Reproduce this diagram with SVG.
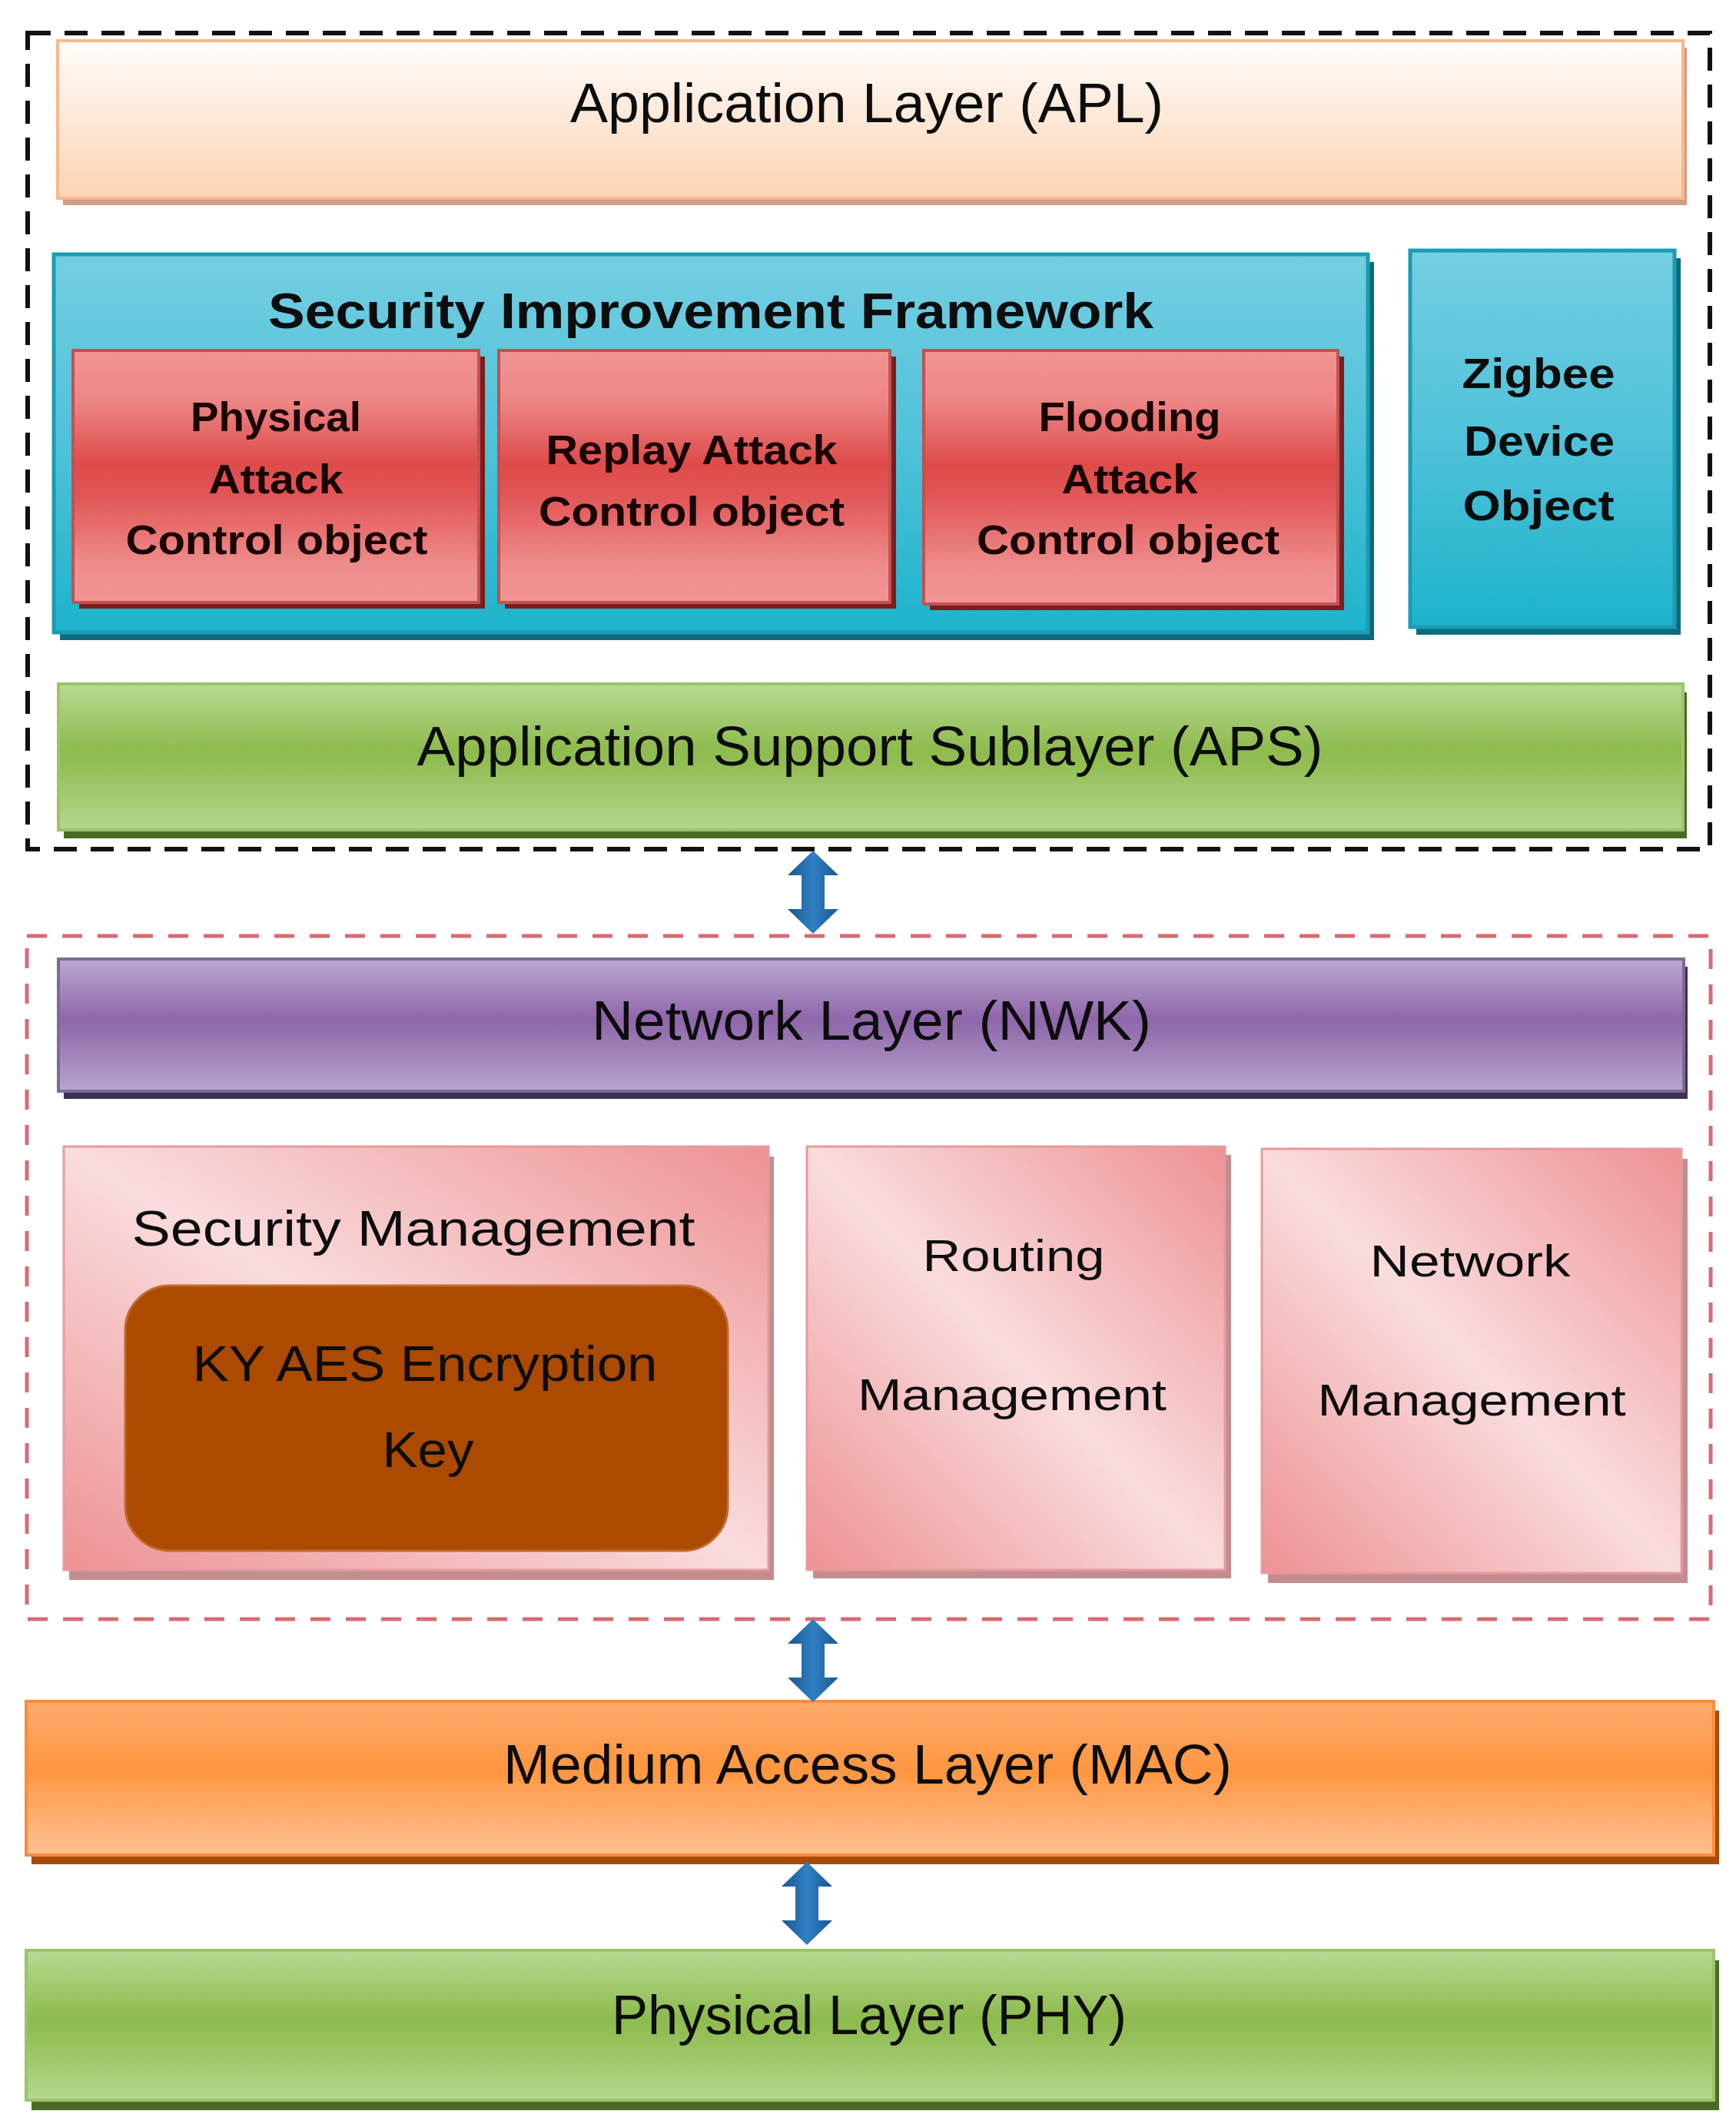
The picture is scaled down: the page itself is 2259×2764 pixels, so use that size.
<svg xmlns="http://www.w3.org/2000/svg" xmlns:xlink="http://www.w3.org/1999/xlink" width="2259" height="2764" viewBox="0 0 2259 2764">
<defs>
<linearGradient id="gAPL" x1="0" y1="0" x2="0" y2="1"><stop offset="0" stop-color="#FFFDFB"/><stop offset="0.35" stop-color="#FEEEE2"/><stop offset="1" stop-color="#FBD3B3"/></linearGradient>
<linearGradient id="gTeal" x1="0" y1="0" x2="0" y2="1"><stop offset="0" stop-color="#74CEE2"/><stop offset="0.5" stop-color="#4FC2D9"/><stop offset="1" stop-color="#1DB3CC"/></linearGradient>
<linearGradient id="gRed" x1="0" y1="0" x2="0" y2="1"><stop offset="0" stop-color="#F19494"/><stop offset="0.2" stop-color="#EC8686"/><stop offset="0.45" stop-color="#DF4B4B"/><stop offset="0.58" stop-color="#E25656"/><stop offset="0.85" stop-color="#EE8C8C"/><stop offset="1" stop-color="#F19595"/></linearGradient>
<linearGradient id="gGreen" x1="0" y1="0" x2="0" y2="1"><stop offset="0" stop-color="#B9D993"/><stop offset="0.45" stop-color="#8EBB4E"/><stop offset="0.55" stop-color="#92BE54"/><stop offset="1" stop-color="#B6D78E"/></linearGradient>
<linearGradient id="gPurple" x1="0" y1="0" x2="0" y2="1"><stop offset="0" stop-color="#BDA8D2"/><stop offset="0.45" stop-color="#8F67AB"/><stop offset="0.55" stop-color="#9470AF"/><stop offset="1" stop-color="#BAA5CF"/></linearGradient>
<linearGradient id="gPink" x1="0" y1="1" x2="1" y2="0"><stop offset="0" stop-color="#EE9194"/><stop offset="0.5" stop-color="#F9DCDD"/><stop offset="1" stop-color="#EE9194"/></linearGradient>
<linearGradient id="gOrange" x1="0" y1="0" x2="0" y2="1"><stop offset="0" stop-color="#FFAA6E"/><stop offset="0.45" stop-color="#FF963F"/><stop offset="0.6" stop-color="#FFA35A"/><stop offset="1" stop-color="#FFC092"/></linearGradient>
<linearGradient id="gArrow" x1="0" y1="0" x2="1" y2="0"><stop offset="0" stop-color="#1A568E"/><stop offset="0.5" stop-color="#2F80C4"/><stop offset="1" stop-color="#1A568E"/></linearGradient>
<path id="dblArrow" d="M0,0 L33,32 L15,32 L15,76 L33,76 L0,108 L-33,76 L-15,76 L-15,32 L-33,32 Z"/>
</defs>
<style>
text{font-family:"Liberation Sans",Arial,sans-serif;fill:#0d0d0d;text-anchor:middle}
.big{font-size:72px}
.mid{font-size:64px}
.sm{font-size:58px}
.bold{font-weight:bold}
.redt{font-size:54px;font-weight:bold;fill:#1a0505}
.shTeal{fill:#0E6B7C}
.shRed{fill:#7A1E1E}
.shGreen{fill:#4C6B22}
.shPink{fill:#C38D90}
</style>
<rect x="0" y="0" width="2259" height="2764" fill="#ffffff"/>

<g id="apl-container">
<rect x="36" y="43" width="2189" height="1062" fill="none" stroke="#111" stroke-width="6" stroke-dasharray="30 18"/>
</g>
<g id="nwk-container">
<rect x="35" y="1218" width="2191" height="889" fill="none" stroke="#D96A74" stroke-width="5" stroke-dasharray="26 20"/>
</g>

<g id="apl">
<rect x="82" y="62" width="2113" height="205" fill="#D49C82"/>
<rect x="75" y="53" width="2115" height="205" fill="url(#gAPL)" stroke="#F8B88A" stroke-width="4"/>
<text class="big" x="1128" y="159" textLength="772" lengthAdjust="spacingAndGlyphs">Application Layer (APL)</text>
</g>

<g id="sif">
<rect class="shTeal" x="78" y="341" width="1710" height="492"/>
<rect x="70" y="331" width="1710" height="492" fill="url(#gTeal)" stroke="#1A9CB3" stroke-width="5"/>
<text class="mid bold" x="925" y="427" textLength="1152" lengthAdjust="spacingAndGlyphs">Security Improvement Framework</text>
</g>

<g id="physical-attack">
<rect class="shRed" x="103" y="464" width="528" height="328"/>
<rect x="95" y="456" width="528" height="328" fill="url(#gRed)" stroke="#C4504F" stroke-width="4"/>
<text class="redt" x="359" y="561" textLength="222" lengthAdjust="spacingAndGlyphs">Physical</text>
<text class="redt" x="359" y="642" textLength="175" lengthAdjust="spacingAndGlyphs">Attack</text>
<text class="redt" x="360" y="721" textLength="393" lengthAdjust="spacingAndGlyphs">Control object</text>
</g>

<g id="replay-attack">
<rect class="shRed" x="657" y="464" width="509" height="328"/>
<rect x="649" y="456" width="509" height="328" fill="url(#gRed)" stroke="#C4504F" stroke-width="4"/>
<text class="redt" x="900" y="604" textLength="379" lengthAdjust="spacingAndGlyphs">Replay Attack</text>
<text class="redt" x="900" y="684" textLength="398" lengthAdjust="spacingAndGlyphs">Control object</text>
</g>

<g id="flooding-attack">
<rect class="shRed" x="1210" y="464" width="539" height="330"/>
<rect x="1202" y="456" width="539" height="330" fill="url(#gRed)" stroke="#C4504F" stroke-width="4"/>
<text class="redt" x="1470" y="561" textLength="237" lengthAdjust="spacingAndGlyphs">Flooding</text>
<text class="redt" x="1470" y="642" textLength="177" lengthAdjust="spacingAndGlyphs">Attack</text>
<text class="redt" x="1468" y="721" textLength="394" lengthAdjust="spacingAndGlyphs">Control object</text>
</g>

<g id="zdo">
<rect class="shTeal" x="1843" y="336" width="344" height="490"/>
<rect x="1835" y="326" width="344" height="490" fill="url(#gTeal)" stroke="#1A9CB3" stroke-width="5"/>
<text class="bold" style="font-size:56px" x="2002" y="505" textLength="199" lengthAdjust="spacingAndGlyphs">Zigbee</text>
<text class="bold" style="font-size:56px" x="2003" y="593" textLength="196" lengthAdjust="spacingAndGlyphs">Device</text>
<text class="bold" style="font-size:56px" x="2002" y="677" textLength="197" lengthAdjust="spacingAndGlyphs">Object</text>
</g>

<g id="aps">
<rect class="shGreen" x="83" y="901" width="2112" height="190"/>
<rect x="76" y="890" width="2114" height="190" fill="url(#gGreen)" stroke="#9CC36B" stroke-width="4"/>
<text class="big" x="1132" y="996" textLength="1179" lengthAdjust="spacingAndGlyphs">Application Support Sublayer (APS)</text>
</g>

<g id="nwk">
<rect x="83" y="1258" width="2113" height="172" fill="#3E2F52"/>
<rect x="76" y="1248" width="2115" height="172" fill="url(#gPurple)" stroke="#7D6A94" stroke-width="4"/>
<text class="big" x="1134" y="1353" textLength="728" lengthAdjust="spacingAndGlyphs">Network Layer (NWK)</text>
</g>

<g id="security-management">
<rect class="shPink" x="90" y="1505" width="917" height="551"/>
<rect x="83" y="1492" width="917" height="551" fill="url(#gPink)" stroke="#E59B9D" stroke-width="3"/>
<text class="mid" x="538" y="1621" textLength="733" lengthAdjust="spacingAndGlyphs">Security Management</text>
</g>

<g id="ky-aes-key">
<rect x="163" y="1673" width="784" height="345" rx="58" ry="58" fill="#AB4A00" stroke="#C06A2A" stroke-width="3"/>
<text class="mid" x="553" y="1797" textLength="605" lengthAdjust="spacingAndGlyphs">KY AES Encryption</text>
<text class="mid" x="557" y="1909" textLength="119" lengthAdjust="spacingAndGlyphs">Key</text>
</g>

<g id="routing-management">
<rect class="shPink" x="1058" y="1503" width="544" height="551"/>
<rect x="1050" y="1492" width="544" height="551" fill="url(#gPink)" stroke="#E59B9D" stroke-width="3"/>
<text class="sm" x="1319" y="1654" textLength="237" lengthAdjust="spacingAndGlyphs">Routing</text>
<text class="sm" x="1317" y="1835" textLength="402" lengthAdjust="spacingAndGlyphs">Management</text>
</g>

<g id="network-management">
<rect class="shPink" x="1650" y="1508" width="546" height="552"/>
<rect x="1642" y="1495" width="546" height="552" fill="url(#gPink)" stroke="#E59B9D" stroke-width="3"/>
<text class="sm" x="1913" y="1661" textLength="261" lengthAdjust="spacingAndGlyphs">Network</text>
<text class="sm" x="1915" y="1842" textLength="401" lengthAdjust="spacingAndGlyphs">Management</text>
</g>

<g id="mac">
<rect x="41" y="2226" width="2196" height="200" fill="#A84A0A"/>
<rect x="34" y="2214" width="2196" height="200" fill="url(#gOrange)" stroke="#F98C3E" stroke-width="4"/>
<text class="big" x="1129" y="2321" textLength="948" lengthAdjust="spacingAndGlyphs">Medium Access Layer (MAC)</text>
</g>

<g id="phy">
<rect class="shGreen" x="41" y="2551" width="2196" height="195"/>
<rect x="34" y="2538" width="2196" height="195" fill="url(#gGreen)" stroke="#9CC36B" stroke-width="4"/>
<text class="big" x="1131" y="2647" textLength="670" lengthAdjust="spacingAndGlyphs">Physical Layer (PHY)</text>
</g>

<g id="connectors" fill="url(#gArrow)">
<use xlink:href="#dblArrow" href="#dblArrow" transform="translate(1058,1107)"/>
<use xlink:href="#dblArrow" href="#dblArrow" transform="translate(1058,2107)"/>
<use xlink:href="#dblArrow" href="#dblArrow" transform="translate(1050,2423)"/>
</g>
</svg>
